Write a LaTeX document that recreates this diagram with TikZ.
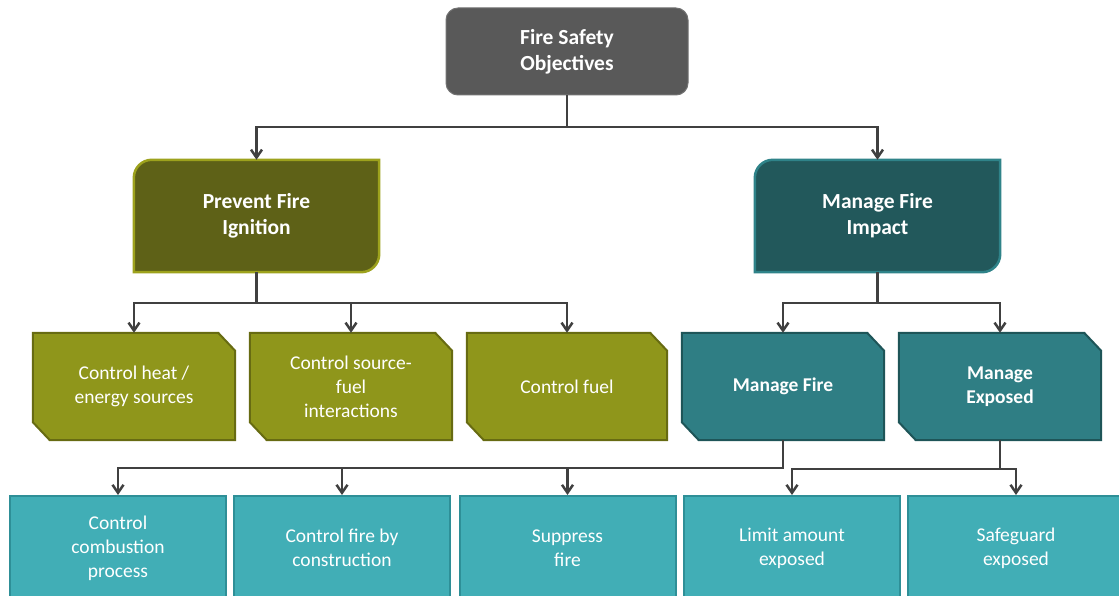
\documentclass[tikz,border=0pt]{standalone}
\usepackage{fontspec}
\setmainfont{Carlito}
\usetikzlibrary{arrows.meta, calc, backgrounds}

\definecolor{topgray}{HTML}{595959}
\definecolor{olivedark}{HTML}{5E6117}
\definecolor{oliveedge}{HTML}{9DA21D}
\definecolor{olivemid}{HTML}{8F961B}
\definecolor{olivemidedge}{HTML}{676B12}
\definecolor{tealdark}{HTML}{22585B}
\definecolor{tealedge}{HTML}{2F8389}
\definecolor{tealmid}{HTML}{2F7E84}
\definecolor{tealmidedge}{HTML}{1E5558}
\definecolor{teallight}{HTML}{41AEB6}
\definecolor{teallightedge}{HTML}{2E8F97}
\definecolor{wirecol}{HTML}{404040}

% tab: rounded top left and bottom right
\newcommand{\tabshape}[3]{%
  \filldraw[fill=#2, draw=#3, line width=2.5pt]
    (#1.south west) -- ([yshift=-18pt]#1.north west)
    arc[start angle=180, end angle=90, radius=18pt]
    -- (#1.north east) -- ([yshift=18pt]#1.south east)
    arc[start angle=0, end angle=-90, radius=18pt] -- cycle;}
% snipped top right and bottom left
\newcommand{\snipshape}[3]{%
  \filldraw[fill=#2, draw=#3, line width=2pt]
    (#1.north west) -- ([xshift=-17pt]#1.north east) -- ([yshift=-18pt]#1.north east)
    -- (#1.south east) -- ([xshift=17pt]#1.south west) -- ([yshift=18pt]#1.south west) -- cycle;}

\tikzset{
  box/.style={rectangle, inner sep=0pt, text=white, align=center},
  topbox/.style={box, minimum width=242pt, minimum height=87pt, rounded corners=12pt,
    fill=topgray, draw=topgray!85!white, line width=1pt, font=\fontsize{21.5}{26}\selectfont\bfseries},
  headbox/.style={box, minimum width=245pt, minimum height=112pt, font=\fontsize{21.5}{26}\selectfont\bfseries},
  midbox/.style={box, minimum width=202pt, minimum height=107pt, font=\fontsize{19.5}{24}\selectfont},
  leafbox/.style={box, minimum width=216pt, minimum height=104pt, fill=teallight,
    draw=teallightedge, line width=2pt, font=\fontsize{19.5}{24}\selectfont},
  wire/.style={draw=wirecol, line width=2.5pt, -{Straight Barb[length=8pt,width=11pt]}},
}

\begin{document}
\begin{tikzpicture}[x=1pt, y=-1pt]

	\useasboundingbox (0,0) rectangle (1119,596);
	\clip (0,0) rectangle (1119,596);

	\coordinate (busA) at (0,127);
	\coordinate (busB) at (0,303);
	\coordinate (busC) at (0,468);
	\coordinate (busD) at (0,469);

	\node[topbox] (top) at (567,51.5) {Fire Safety\\Objectives};

	\node[headbox] (prevent) at (256.5,216) {Prevent Fire\\Ignition};
	\node[headbox] (impact) at (877.5,216) {Manage Fire\\Impact};

	\node[midbox] (heat) at (134,386.5) {Control heat /\\energy sources};
	\node[midbox] (inter) at (351,386.5) {Control source-\\fuel\\interactions};
	\node[midbox, minimum width=200pt] (fuel) at (567,386.5) {Control fuel};
	\node[midbox, font=\fontsize{19.5}{24}\selectfont\bfseries] (mfire) at (783,386.5) {Manage Fire};
	\node[midbox, font=\fontsize{19.5}{24}\selectfont\bfseries] (mexp) at (1000,386.5) {Manage\\Exposed};

	\node[leafbox] (comb) at (118,548) {Control\\combustion\\process};
	\node[leafbox] (constr) at (342,548) {Control fire by\\construction};
	\node[leafbox] (supp) at (567.5,548) {Suppress\\fire};
	\node[leafbox] (limit) at (792,548) {Limit amount\\exposed};
	\node[leafbox] (safe) at (1016,548) {Safeguard\\exposed};

	\begin{scope}[on background layer]
		\tabshape{prevent}{olivedark}{oliveedge}
		\tabshape{impact}{tealdark}{tealedge}
		\snipshape{heat}{olivemid}{olivemidedge}
		\snipshape{inter}{olivemid}{olivemidedge}
		\snipshape{fuel}{olivemid}{olivemidedge}
		\snipshape{mfire}{tealmid}{tealmidedge}
		\snipshape{mexp}{tealmid}{tealmidedge}
	\end{scope}

	\draw[wire] (top.south) -- (top.south |- busA) -| (prevent.north);
	\draw[wire] (top.south |- busA) -| (impact.north);

	\draw[wire] (prevent.south) -- (prevent.south |- busB) -| (heat.north);
	\draw[wire] (prevent.south |- busB) -| (inter.north);
	\draw[wire] (prevent.south |- busB) -| (fuel.north);

	\draw[wire] (impact.south) -- (impact.south |- busB) -| (mfire.north);
	\draw[wire] (impact.south |- busB) -| (mexp.north);

	\draw[wire] (mfire.south) -- (mfire.south |- busC) -| (comb.north);
	\draw[wire] (mfire.south |- busC) -| (constr.north);
	\draw[wire] (mfire.south |- busC) -| (supp.north);

	\draw[wire] (mexp.south) -- (mexp.south |- busD) -| (limit.north);
	\draw[wire] (mexp.south |- busD) -| (safe.north);

\end{tikzpicture}
\end{document}
